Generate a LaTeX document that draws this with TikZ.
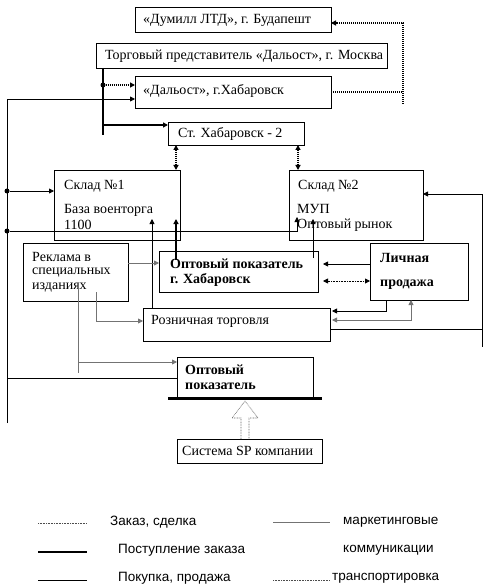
\documentclass[tikz,border=0pt]{standalone}
\usepackage{fontspec}
\setmainfont{Liberation Serif}
\newfontfamily\legfont{Liberation Sans}
\usetikzlibrary{arrows.meta}
\begin{document}
\begin{tikzpicture}[x=1pt,y=-1pt,
  box/.style={draw, line width=0.8pt, inner sep=0pt, outer sep=0pt, anchor=north west},
  txt/.style={inner sep=0pt, anchor=west, font=\fontsize{14}{16}\selectfont},
  btxt/.style={inner sep=0pt, anchor=west, font=\fontsize{14}{16}\selectfont\bfseries},
  ltxt/.style={inner sep=0pt, anchor=west, font=\fontsize{13.5}{15}\legfont},
  ln/.style={line width=0.8pt},
  thk/.style={line width=2pt},
  mk/.style={line width=0.8pt, black!55},
  dts/.style={line width=1.4pt, dash pattern=on 1pt off 1pt},
  tdts/.style={line width=0.9pt, dash pattern=on 0.8pt off 0.8pt},
  tip/.style={-{Triangle[length=5pt,width=5pt]}},
  tips/.style={{Triangle[length=5pt,width=5pt]}-{Triangle[length=5pt,width=5pt]}},
  dot/.style={circle, fill, inner sep=0pt, minimum size=5pt}
]
\useasboundingbox (0,0) rectangle (489,585);

% boxes
\node[box, minimum width=196pt, minimum height=25pt] (dumill) at (135,7) {};
\node[box, minimum width=291pt, minimum height=25pt] (torg) at (96,43) {};
\node[box, minimum width=196pt, minimum height=32pt] (dalost) at (135,76) {};
\node[box, minimum width=136pt, minimum height=23pt] (st) at (168,122) {};
\node[box, minimum width=126pt, minimum height=70pt] (sk1) at (54,170) {};
\node[box, minimum width=134pt, minimum height=70pt] (sk2) at (289,170) {};
\node[box, minimum width=105pt, minimum height=58pt] (rek) at (23,243) {};
\node[box, minimum width=159pt, minimum height=41pt] (opt1) at (159,251) {};
\node[box, minimum width=98pt, minimum height=57pt] (lich) at (370,243) {};
\node[box, minimum width=187pt, minimum height=33pt] (rozn) at (143,308) {};
\node[box, minimum width=136pt, minimum height=40pt] (opt2) at (177,357) {};
\node[box, minimum width=145pt, minimum height=24pt] (sys) at (177,439) {};

% texts
\node[txt] (t1) at (143,20) {«Думилл ЛТД», г. Будапешт};
\node[txt] (t2) at (105,56) {Торговый представитель «Дальост», г. Москва};
\node[txt] (t3) at (143,91) {«Дальост», г.Хабаровск};
\node[txt] (t4) at (178,134) {Ст. Хабаровск - 2};
\node[txt] (t5) at (64,186) {Склад №1};
\node[txt] (t6) at (64,210) {База военторга};
\node[txt] (t7) at (64,225) {1100};
\node[txt] (t8) at (298,186) {Склад №2};
\node[txt] (t9) at (297,209) {МУП};
\node[txt] (t10) at (297,225) {Оптовый рынок};
\node[txt] (t11) at (32,257) {Реклама в};
\node[txt] (t12) at (32,273) {специальных};
\node[txt] (t13) at (32,288) {изданиях};
\node[btxt] (t14) at (170,264) {Оптовый показатель};
\node[btxt] (t15) at (170,280) {г. Хабаровск};
\node[btxt] (t16) at (380,258) {Личная};
\node[btxt] (t17) at (380,285) {продажа};
\node[txt] (t18) at (151,321) {Розничная торговля};
\node[btxt] (t19) at (185,370) {Оптовый};
\node[btxt] (t20) at (185,386) {показатель};
\node[txt] (t21) at (182,451) {Система SP компании};

% top dotted: Дальост -> Думилл
\draw[dts] (dalost.east |- 0,92) -- (403,92);
\draw[dts, tip] (403,104) -- (403,23) -- (dumill.east |- 0,23);

% thick from Торговый
\draw[thk] (torg.south -| 103,0) -- (103,135);
\draw[thk, tip] (103,125) -- (st.west |- 0,125);
\node[dot] (d0) at (103,85) {};
\draw[dts, tip] (d0) -- (dalost.west |- 0,85);

% left vertical
\draw[ln, tip] (7,423) -- (7,99) -- (dalost.west |- 0,99);
\node[dot] (d1) at (7,191) {};
\draw[ln, tip] (d1) -- (sk1.west |- 0,191);
\node[dot] (d2) at (7,231) {};
\draw[ln, tip] (d2) -- (297,231) -- (297,217);

% transport St <-> Склады
\draw[dts, tips] (st.south -| 176,0) -- (sk1.north -| 176,0);
\draw[dts, tips] (st.south -| 298,0) -- (sk2.north -| 298,0);

% into Склад 1
\draw[ln, tip] (rozn.north -| 152,0) -- (152,219);
\draw[thk, tip] (176,260) -- (176,219);
% into Склад 2
\draw[ln, tip] (313,258) -- (313,219);
\draw[ln, tip] (rozn.east |- 0,329) -- (482,329) -- (482,194) -- (sk2.east |- 0,194);
\draw[ln] (482,329) -- (482,347);

% Личная продажа
\draw[ln, tip] (lich.west |- 0,264) -- (323,264);
\draw[tdts, tips] (323,281) -- (lich.west |- 0,281);
\draw[ln, tip] (lich.south -| 386,0) -- (386,311) -- (332,311);
\draw[mk, tips] (332,320) -- (411,320) -- (lich.south -| 411,0);

% marketing from Реклама
\draw[mk, tip] (rek.east |- 0,263) -- (opt1.west |- 0,263);
\draw[mk, tip] (96,292) -- (96,321) -- (rozn.west |- 0,321);
\draw[mk] (78,285) -- (78,373);
\draw[mk, tip] (78,362) -- (opt2.west |- 0,362);

% bottom
\draw[ln] (7,378) -- (opt2.west |- 0,378);
\draw[line width=3pt] (168,398) -- (322,398);
\draw[black!60, line width=0.6pt, dash pattern=on 0.8pt off 0.8pt]
  (sys.north -| 241,0) -- (241,418) -- (232,418) -- (245,401) -- (258,418) -- (249,418) -- (sys.north -| 249,0);

% legend
\coordinate (l1a) at (38,523); \coordinate (l1b) at (87,523);
\coordinate (l2a) at (38,552); \coordinate (l2b) at (87,552);
\coordinate (l3a) at (38,580); \coordinate (l3b) at (87,580);
\coordinate (l4a) at (273,522); \coordinate (l4b) at (330,522);
\coordinate (l5a) at (273,580); \coordinate (l5b) at (330,580);
\draw[tdts, black!70] (l1a) -- (l1b);
\draw[line width=2pt] (l2a) -- (l2b);
\draw[ln] (l3a) -- (l3b);
\draw[mk] (l4a) -- (l4b);
\draw[tdts, black!70] (l5a) -- (l5b);
\node[ltxt] (g1) at (110,522) {Заказ, сделка};
\node[ltxt] (g2) at (118,550) {Поступление заказа};
\node[ltxt] (g3) at (118,578) {Покупка, продажа};
\node[ltxt] (g4) at (343,522) {маркетинговые};
\node[ltxt] (g5) at (343,550) {коммуникации};
\node[ltxt] (g6) at (332,578) {транспортировка};
\end{tikzpicture}
\end{document}
